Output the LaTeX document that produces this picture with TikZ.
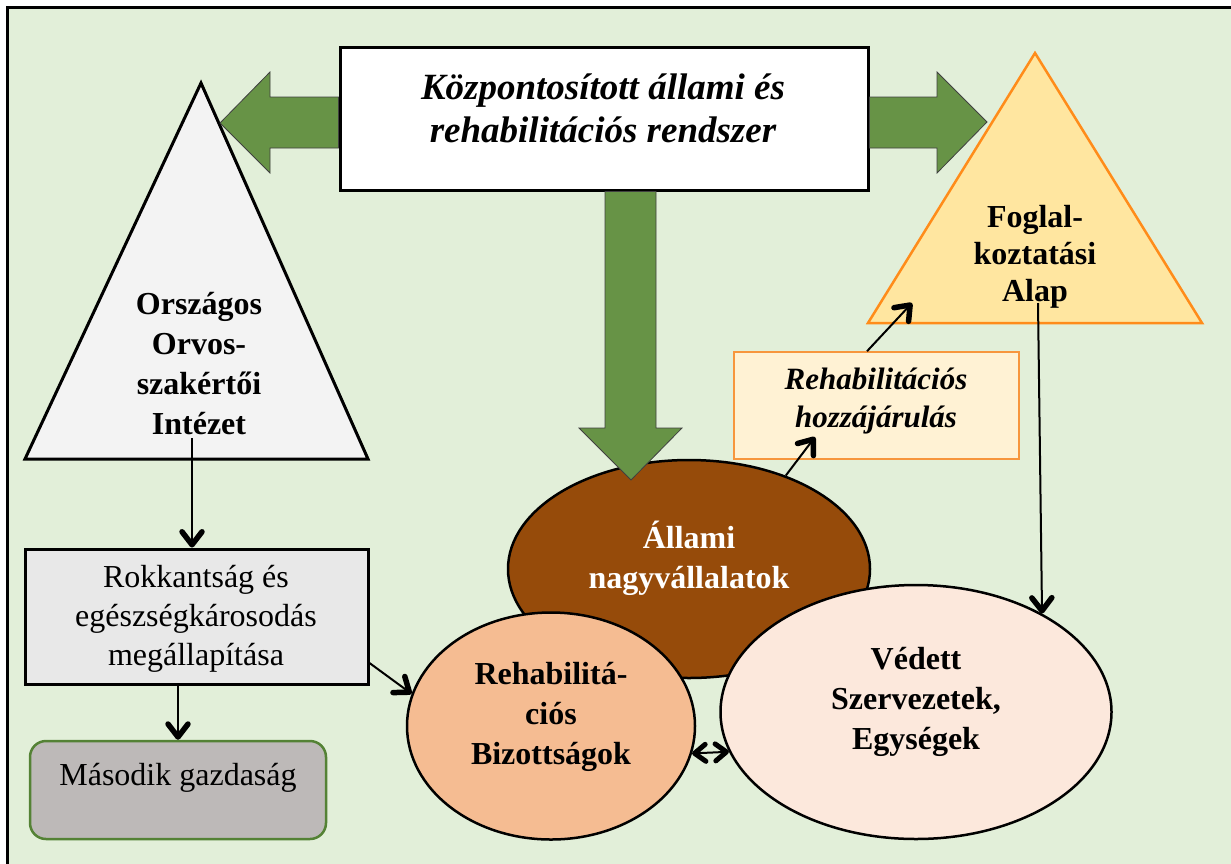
\documentclass[tikz,border=0pt]{standalone}
\usepackage{fontspec}
\setmainfont{Liberation Serif}
\usetikzlibrary{shapes.geometric,arrows.meta,calc}
\definecolor{bggreen}{HTML}{E2EFD9}
\definecolor{arrgreen}{HTML}{679346}
\definecolor{brownfill}{HTML}{964B0A}
\definecolor{rehabfill}{HTML}{F5BC92}
\definecolor{vedettfill}{HTML}{FCE8DC}
\definecolor{foglalfill}{HTML}{FFE6A0}
\definecolor{orangeline}{HTML}{FF8C1A}
\definecolor{hozzfill}{HTML}{FFF2D4}
\definecolor{hozzline}{HTML}{F7963D}
\definecolor{trigray}{HTML}{F3F3F3}
\definecolor{rokkfill}{HTML}{E8E8E8}
\definecolor{masodfill}{HTML}{BDB9B8}
\definecolor{masodline}{HTML}{548235}
\tikzset{
  tipA/.tip={Straight Barb[length=13pt,width=20pt,line width=5.5pt 0,round]},
  tipB/.tip={Straight Barb[length=11pt,width=17pt,line width=5pt 0,round]},
  conn/.style={line width=2pt,-tipA},
  dconn/.style={line width=2pt,tipB-tipB},
  blockarrow/.style={fill=arrgreen,draw=black!75,line width=0.8pt,line join=miter},
  bigtxt/.style={align=center,inner sep=0pt,font=\fontsize{32}{40}\selectfont\bfseries},
  itxt/.style={align=center,inner sep=0pt,font=\fontsize{37}{43}\selectfont\bfseries\itshape},
  regtxt/.style={align=center,inner sep=0pt,font=\fontsize{32}{39}\selectfont},
  ell/.style={ellipse,draw,line width=2.5pt,inner sep=0pt}
}
\begin{document}
\begin{tikzpicture}[x=1pt,y=-1pt]
\useasboundingbox (0,0) rectangle (1231,863);
\fill[white] (0,0) rectangle (1231,863);
\draw[line width=3pt,fill=bggreen] (7,7) rectangle (1245,877);

% triangles
\draw[line width=3pt,fill=trigray,line join=miter] (201,83) -- (368,459) -- (25,459) -- cycle;
\node[bigtxt] (orsz) at (199,364) {Országos\\Orvos-\\szakértői\\Intézet};
\draw[line width=2.5pt,draw=orangeline,fill=foglalfill,line join=miter] (1035,53) -- (1202,323) -- (868,323) -- cycle;
\node[bigtxt,font=\fontsize{32}{37}\selectfont\bfseries] (fog) at (1035,257) {Foglal-\\koztatási\\Alap};

% ellipses
\node[ell,fill=brownfill,minimum width=362,minimum height=218] (allami) at (689,569) {};
\node[bigtxt,text=white] (allamitxt) at (689,558) {Állami\\nagyvállalatok};
\node[ell,fill=rehabfill,minimum width=288,minimum height=227] (rehab) at (551,726) {};
\node[bigtxt] (rehabtxt) at (551,717) {Rehabilitá-\\ciós\\Bizottságok};
\node[ell,fill=vedettfill,minimum width=391,minimum height=254] (vedett) at (916,712) {};
\node[bigtxt] (vedetttxt) at (916,702) {Védett\\Szervezetek,\\Egységek};

% top box
\node[draw,line width=3pt,fill=white,minimum width=528,minimum height=143,inner sep=0pt] (top) at (604,118.5) {};
\node[itxt] (toptxt) at (603,108) {Központosított állami és\\rehabilitációs rendszer};

% block arrows
\draw[blockarrow] (top.west |- 0,97) -- (270,97) -- (270,72) -- (220,123) -- (270,173) -- (270,148) -- (top.west |- 0,148) -- cycle;
\draw[blockarrow] (top.east |- 0,97) -- (937,97) -- (937,72) -- (987,122) -- (937,173) -- (937,148) -- (top.east |- 0,148) -- cycle;
\draw[blockarrow] (605,0 |- top.south) -- (605,428) -- (579,428) -- (631,480) -- (682,428) -- (656,428) -- (656,0 |- top.south) -- cycle;

% boxes
\node[draw=hozzline,fill=hozzfill,line width=1.5pt,minimum width=285,minimum height=107,inner sep=0pt] (hozz) at (876.5,405.5) {};
\node[itxt,font=\fontsize{31}{38}\selectfont\bfseries\itshape] (hozztxt) at (876,401) {Rehabilitációs\\hozzájárulás};
\node[draw,line width=3pt,fill=rokkfill,minimum width=343,minimum height=135,inner sep=0pt] (rokk) at (196.5,616.5) {};
\node[regtxt] (rokktxt) at (196,619) {Rokkantság és\\egészségkárosodás\\megállapítása};
\node[draw=masodline,fill=masodfill,rounded corners=16pt,line width=2.5pt,minimum width=296,minimum height=98,inner sep=0pt] (masod) at (178,790) {};
\node[regtxt] (masodtxt) at (178,778) {Második gazdaság};

% connectors
\coordinate (p1) at (192,438);
\coordinate (t1) at (815,437);
\coordinate (t2) at (912,303);
\coordinate (t3) at (1038,303);
\draw[conn] (p1) -- (p1 |- rokk.north);
\draw[conn] (masod.north |- rokk.south) -- (masod.north);
\draw[conn] (rokk.east |- 0,663) -- (rehab.167);
\draw[conn] (allami.44) -- (t1);
\draw[conn] (hozz.north -| 867,0) -- (t2);
\draw[conn] (t3) -- (vedett.38);
\draw[dconn] (rehab.-11) -- (vedett.192);
\end{tikzpicture}
\end{document}
